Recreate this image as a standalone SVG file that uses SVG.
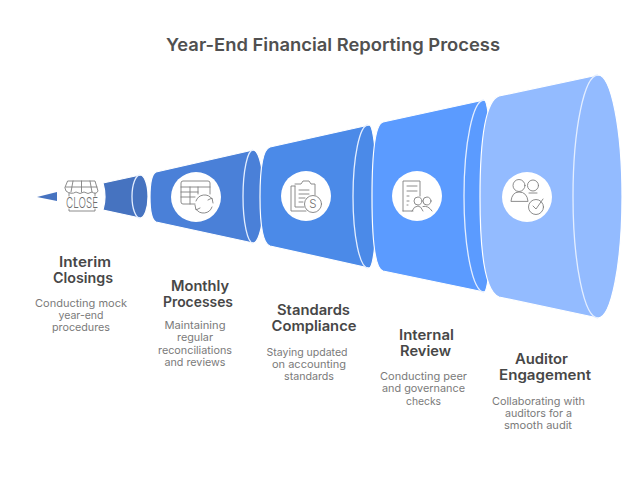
<svg xmlns="http://www.w3.org/2000/svg" width="640" height="482" viewBox="0 0 640 482">
<style>
text{font-family:"Inter","Liberation Sans",sans-serif;text-anchor:middle}
.t{font-size:17.5px;font-weight:600;fill:#505050}
.h{font-size:14px;font-weight:600;fill:#474747}
.d{font-size:10.8px;fill:#7a7a7a}
.a{fill:none;stroke:#e4eeff;stroke-width:1.3}
.s{stroke:#fff;stroke-width:1.2}
.c{fill:#fff}
.i{fill:none;stroke:#7f7f7f;stroke-width:.9;stroke-linecap:round;stroke-linejoin:round}
.g{font-weight:300;fill:#6f6f6f}
</style>
<rect width="640" height="482" fill="#fff"/>
<text class="t" x="333" y="51" textLength="334" lengthAdjust="spacingAndGlyphs">Year-End Financial Reporting Process</text>
<g id="node-interim">
<path d="M37,197 L57,192 V201 Z" fill="#4673c0"/>
<path class="s" d="M103,183 L140,175 A8,21.500 0 0 1 140,218 L103,210 Q107,197 103,183 Z" fill="#4673c0"/>
<path class="a" d="M140,175 A8,21.500 0 0 0 140,218"/>
<g class="i">
<path d="M68,181 H95 L98,191 Q96,195 92,192 Q88,195 84,192 Q80,195 76,192 Q71,195 66,191 L65,188 Z"/>
<path d="M73,181 L71,192 M81.500,181 V192 M90,181 L92,192 M65.500,187 H97 M69,193 V196 M95,193 V196"/>
<path d="M69,209 V211 H95 V209"/>
</g>
<text class="g" x="82" y="208" style="font-size:15px" textLength="32" lengthAdjust="spacingAndGlyphs">CLOSE</text>
<text class="h" x="85" y="267" textLength="52" lengthAdjust="spacingAndGlyphs">Interim</text>
<text class="h" x="83" y="283" textLength="60" lengthAdjust="spacingAndGlyphs">Closings</text>
<text class="d" x="81" y="307" textLength="92" lengthAdjust="spacingAndGlyphs">Conducting mock</text>
<text class="d" x="81" y="319" textLength="45" lengthAdjust="spacingAndGlyphs">year-end</text>
<text class="d" x="81" y="331" textLength="58" lengthAdjust="spacingAndGlyphs">procedures</text>
</g>
<g id="node-monthly">
<path class="s" d="M156,172 L253,150 A11,46.500 0 0 1 253,243 L156,222 Q150,219 150,197 Q150,175 156,172 Z" fill="#4a80d8"/>
<path class="a" d="M253,150 A10,46.500 0 0 0 253,243"/>
<circle class="c" cx="196" cy="197" r="25"/>
<g class="i">
<path d="M195,204 H183 Q181,204 181,202 V183 Q181,181 183,181 H208 Q210,181 210,183 V194 M181,187 H210 M181,192 H198 M181,197 H195 M190,187 V204 M198,187 V194"/>
<path d="M196,201 A9,9 0 0 1 212,199 M213,203 L212,198 L208,200 M212,207 A9,9 0 0 1 196,209 M195,205 L196,210 L200,208"/>
</g>
<text class="h" x="200" y="291" textLength="58" lengthAdjust="spacingAndGlyphs">Monthly</text>
<text class="h" x="198" y="307" textLength="70" lengthAdjust="spacingAndGlyphs">Processes</text>
<text class="d" x="195" y="329" textLength="61" lengthAdjust="spacingAndGlyphs">Maintaining</text>
<text class="d" x="195" y="341" textLength="36" lengthAdjust="spacingAndGlyphs">regular</text>
<text class="d" x="195" y="354" textLength="74" lengthAdjust="spacingAndGlyphs">reconciliations</text>
<text class="d" x="195" y="366" textLength="61" lengthAdjust="spacingAndGlyphs">and reviews</text>
</g>
<g id="node-standards">
<path class="s" d="M270,147 L369,125 A8,71.500 0 0 1 369,268 L270,246 Q260,243 260,197 Q260,150 270,147 Z" fill="#4b8ae8"/>
<path class="a" d="M368,125 A15,71.500 0 0 0 368,268"/>
<circle class="c" cx="306" cy="196" r="25"/>
<g class="i">
<path d="M295,186 H291 V211 H306 M295,186 V207 H304 M295,184 H301 L303,181 H309 L311,184 H315 V195"/>
<path d="M299,190 H309 M299,194 H309 M299,198 H305 M299,202 H303"/>
<circle cx="313" cy="204" r="8.500"/>
</g>
<text class="g" x="313" y="208" style="font-size:11.500px">S</text>
<text class="h" x="313.500" y="315" textLength="73" lengthAdjust="spacingAndGlyphs">Standards</text>
<text class="h" x="314" y="331" textLength="85" lengthAdjust="spacingAndGlyphs">Compliance</text>
<text class="d" x="307" y="356" textLength="81" lengthAdjust="spacingAndGlyphs">Staying updated</text>
<text class="d" x="309" y="368" textLength="74" lengthAdjust="spacingAndGlyphs">on accounting</text>
<text class="d" x="309" y="380" textLength="50" lengthAdjust="spacingAndGlyphs">standards</text>
</g>
<g id="node-internal">
<path class="s" d="M383,122 L484,100 A8,96 0 0 1 484,292 L383,271 Q372,268 372,197 Q372,125 383,122 Z" fill="#5b9bff"/>
<path class="a" d="M484,100 A20,96 0 0 0 484,292"/>
<circle class="c" cx="417" cy="196" r="25"/>
<g class="i">
<path d="M403,211 V181 H420 V196 M403,211 H413"/>
<path d="M407,186 H417 M407,191 H417 M407,196 H409 M407,201 H409 M407,205 H408"/>
<circle cx="418" cy="201" r="4"/><circle cx="427" cy="201" r="4"/>
<path d="M412,211 Q414,206 418,206 Q421,206 423,211 M423,206.500 Q428,205 432,211"/>
</g>
<text class="h" x="426.500" y="340" textLength="55" lengthAdjust="spacingAndGlyphs">Internal</text>
<text class="h" x="425.500" y="356" textLength="51" lengthAdjust="spacingAndGlyphs">Review</text>
<text class="d" x="423.500" y="380" textLength="87" lengthAdjust="spacingAndGlyphs">Conducting peer</text>
<text class="d" x="423.500" y="392" textLength="83" lengthAdjust="spacingAndGlyphs">and governance</text>
<text class="d" x="423.500" y="405" textLength="35" lengthAdjust="spacingAndGlyphs">checks</text>
</g>
<g id="node-auditor">
<path class="s" d="M499,96 L598,75 A24,121.500 0 0 1 598,318 L499,297 Q480,290 480,197 Q480,103 499,96 Z" fill="#93bbff"/>
<path class="a" d="M598,75 A25,121.500 0 0 0 598,318"/>
<circle class="c" cx="527" cy="197" r="25"/>
<g class="i">
<circle cx="519" cy="185.500" r="6"/><circle cx="533" cy="185.500" r="5.500"/>
<path d="M511,201 Q512,192 519,192 Q527,192 528,201 Z M529,193 H537"/>
<circle cx="536" cy="207" r="7.500"/>
<path d="M533,206 L536,209 L543,199"/>
</g>
<text class="h" x="541.500" y="364" textLength="53" lengthAdjust="spacingAndGlyphs">Auditor</text>
<text class="h" x="545" y="380" textLength="92" lengthAdjust="spacingAndGlyphs">Engagement</text>
<text class="d" x="538.500" y="405" textLength="93" lengthAdjust="spacingAndGlyphs">Collaborating with</text>
<text class="d" x="538.500" y="417" textLength="67" lengthAdjust="spacingAndGlyphs">auditors for a</text>
<text class="d" x="538" y="429" textLength="68" lengthAdjust="spacingAndGlyphs">smooth audit</text>
</g>
<g id="connectors"/>
</svg>
